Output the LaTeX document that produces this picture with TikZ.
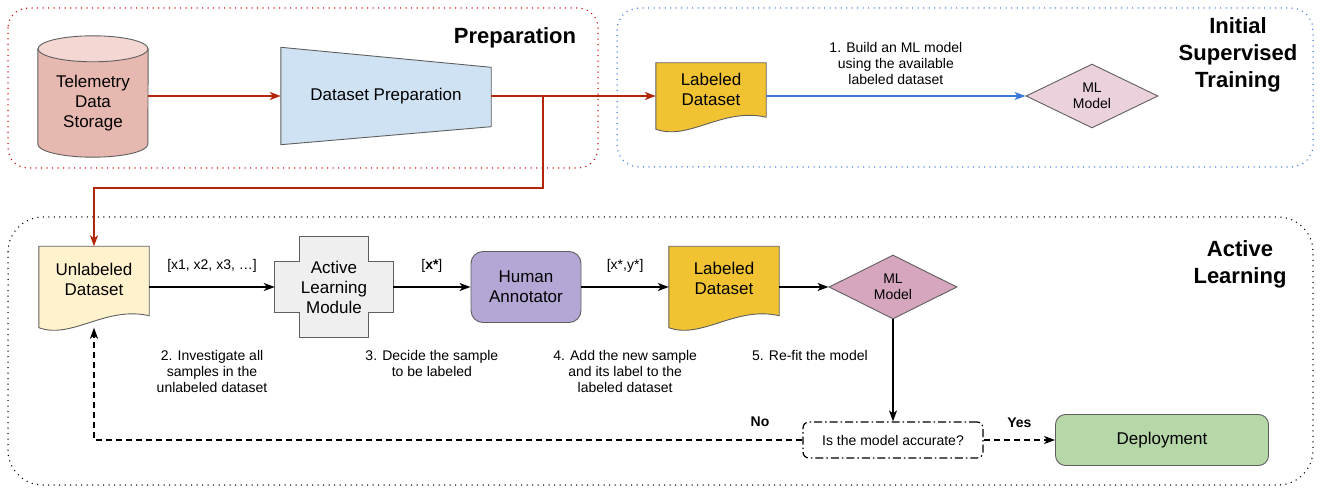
\documentclass[tikz,border=0pt]{standalone}
\usepackage{fontspec}
\setmainfont{Liberation Sans}
\usetikzlibrary{arrows.meta,shapes.geometric,backgrounds,calc}

\definecolor{prepred}{RGB}{204,0,0}
\definecolor{arrowred}{RGB}{180,38,10}
\definecolor{trainblue}{RGB}{60,120,216}
\definecolor{linegray}{RGB}{95,95,95}
\definecolor{cylbody}{RGB}{230,184,175}
\definecolor{cyltop}{RGB}{244,214,210}
\definecolor{prepfill}{RGB}{207,226,243}
\definecolor{labfill}{RGB}{241,194,50}
\definecolor{unlabfill}{RGB}{255,242,204}
\definecolor{almfill}{RGB}{239,239,239}
\definecolor{humfill}{RGB}{180,167,214}
\definecolor{mlafill}{RGB}{234,209,220}
\definecolor{mlbfill}{RGB}{213,166,189}
\definecolor{depfill}{RGB}{182,215,168}

% wavy "document" outline behind a node
\newcommand{\docshape}[2]{%
  \begin{scope}[on background layer]
    \filldraw[shapeline, fill=#2] (#1.north west) -- (#1.north east)
      -- ($(#1.south east)+(0,-12)$)
      .. controls ($(#1.south west)!0.6!(#1.south east)+(0,-22)$)
      and ($(#1.south west)!0.3!(#1.south east)+(0,12)$) .. (#1.south west) -- cycle;
  \end{scope}}

\begin{document}
\begin{tikzpicture}[x=1pt, y=-1pt,
	nodebox/.style={inner sep=0pt, align=center, font=\fontsize{17}{20}\selectfont},
	note/.style={inner sep=0pt, align=center, font=\fontsize{14}{16}\selectfont},
	notebold/.style={inner sep=0pt, font=\fontsize{14}{16}\selectfont\bfseries},
	grouptitle/.style={inner sep=0pt, align=center, font=\fontsize{22}{27}\selectfont\bfseries},
	shapeline/.style={draw=linegray, line width=0.9pt},
	groupbox/.style={line width=1.5pt, line cap=round, dash pattern=on 0pt off 5.5pt, rounded corners=#1},
	redline/.style={draw=arrowred, line width=1.6pt},
	blackline/.style={draw=black, line width=1.4pt},
	dashline/.style={dash pattern=on 6pt off 4pt},
	arrowtip/.style={-{Stealth[length=11pt, width=8pt, inset=3pt]}},
	docnode/.style={nodebox, minimum width=110, minimum height=81, text depth=14pt}]
	
	\useasboundingbox (0,0) rectangle (1323,489);
	
	% preparation
	\draw[groupbox=20pt, draw=prepred] (8,8) rectangle (598,168);
	
	\node[grouptitle] (preptitle) at (515,38) {Preparation};
	
	\node[nodebox, minimum width=110, minimum height=108] (tds) at (93,103) {Telemetry\\Data\\Storage};
	
	\begin{scope}[on background layer]
		\filldraw[shapeline, fill=cylbody] (tds.north west) -- ([yshift=13pt]tds.south west)
		arc[start angle=180, end angle=360, x radius=55pt, y radius=13pt] -- (tds.north east) -- cycle;
		\filldraw[shapeline, fill=cyltop] (tds.north) ellipse[x radius=55pt, y radius=13pt];
	\end{scope}
	
	\node[nodebox, minimum width=210, minimum height=97] (dprep) at (386,96) {Dataset Preparation};
	
	\begin{scope}[on background layer]
		\filldraw[shapeline, fill=prepfill] (dprep.north west) -- ([yshift=-20pt]dprep.north east)
		-- ([yshift=18pt]dprep.south east) -- (dprep.south west) -- cycle;
	\end{scope}
	
	% initial supervised training
	\draw[groupbox=22pt, draw=trainblue] (617,8) rectangle (1313,167);
	
	\node[grouptitle] (traintitle) at (1238,55) {Initial\\Supervised\\Training};
	
	\node[docnode, minimum height=66, text depth=13pt] (lbla) at (711,96) {Labeled\\Dataset};
	\docshape{lbla}{labfill}
	
	\node[note, diamond, shapeline, fill=mlafill, minimum width=132, minimum height=63] (mla) at (1092,96) {ML\\Model};
	
	\coordinate (split) at (543,96);
	
	% active learning
	\draw[groupbox=35pt, draw=black] (8,217) rectangle (1313,485);
	
	\node[grouptitle] (altitle) at (1240,264) {Active\\Learning};
	
	\node[docnode, text depth=16pt] (unl) at (94,287) {Unlabeled\\Dataset};
	\docshape{unl}{unlabfill}
	
	\node[nodebox, minimum width=118, minimum height=100] (alm) at (334,287) {Active\\Learning\\Module};
	
	\begin{scope}[on background layer]
		\filldraw[shapeline, fill=almfill] ([xshift=25pt]alm.north west) -- ([xshift=-25pt]alm.north east)
		-- ([xshift=-25pt,yshift=-25pt]alm.north east) -- ([yshift=-25pt]alm.north east)
		-- ([yshift=25pt]alm.south east) -- ([xshift=-25pt,yshift=25pt]alm.south east)
		-- ([xshift=-25pt]alm.south east) -- ([xshift=25pt]alm.south west)
		-- ([xshift=25pt,yshift=25pt]alm.south west) -- ([yshift=25pt]alm.south west)
		-- ([yshift=-25pt]alm.north west) -- ([xshift=25pt,yshift=-25pt]alm.north west) -- cycle;
	\end{scope}
	
	\node[nodebox, rounded corners=12pt, shapeline, fill=humfill, minimum width=110, minimum height=71] (hum) at (526,287) {Human\\Annotator};
	
	\node[docnode, text depth=18pt] (lblb) at (724,287) {Labeled\\Dataset};
	\docshape{lblb}{labfill}
	
	\node[note, diamond, shapeline, fill=mlbfill, minimum width=128, minimum height=63] (mlb) at (893,287) {ML\\Model};
	
	\node[note, rounded corners=6pt, draw=black, line width=1.2pt, dash pattern=on 8pt off 3pt on 1.5pt off 3pt, minimum width=180, minimum height=36] (dec) at (893,440) {Is the model accurate?};
	
	\node[nodebox, rounded corners=10pt, shapeline, fill=depfill, minimum width=213, minimum height=51] (dep) at (1162,440) {Deployment};
	
	% connectors
	\draw[redline, arrowtip] (tds.east |- dprep.west) -- (dprep.west);
	
	\draw[redline, arrowtip] (dprep.east) -- (lbla.west);
	
	\draw[redline, arrowtip] (split) -- ++(0,92) -| (unl.north);
	
	\draw[draw=trainblue, line width=1.6pt, arrowtip] (lbla.east) -- node[note, above=11pt] (step1) {1. Build an ML model\\using the available\\labeled dataset} (mla.west);
	
	\draw[blackline, arrowtip] (unl.east) -- node[note, above=14pt] (samples) {[x1, x2, x3, …]} node[note, below=63pt] (step2) {2. Investigate all\\samples in the\\unlabeled dataset} (alm.west);
	
	\draw[blackline, arrowtip] (alm.east) -- node[note, above=14pt] (pick) {[\textbf{x*}]} node[note, below=63pt] (step3) {3. Decide the sample\\to be labeled} (hum.west);
	
	\draw[blackline, arrowtip] (hum.east) -- node[note, above=14pt] (pair) {[x*,y*]} node[note, below=63pt] (step4) {4. Add the new sample\\and its label to the\\labeled dataset} (lblb.west);
	
	\draw[blackline, arrowtip] (lblb.east) -- node[note, below=63pt, xshift=6pt] (step5) {5. Re-fit the model} (mlb.west);
	
	\draw[blackline, arrowtip] (mlb.south) -- (dec.north);
	
	\draw[blackline, dashline, arrowtip] (dec.west) -| (unl.south);
	
	\node[notebold] (no) at (760,422) {No};
	
	\draw[blackline, dashline, arrowtip] (dec.east) -- node[notebold, above=12pt] (yes) {Yes} (dep.west);
	
\end{tikzpicture}
\end{document}
